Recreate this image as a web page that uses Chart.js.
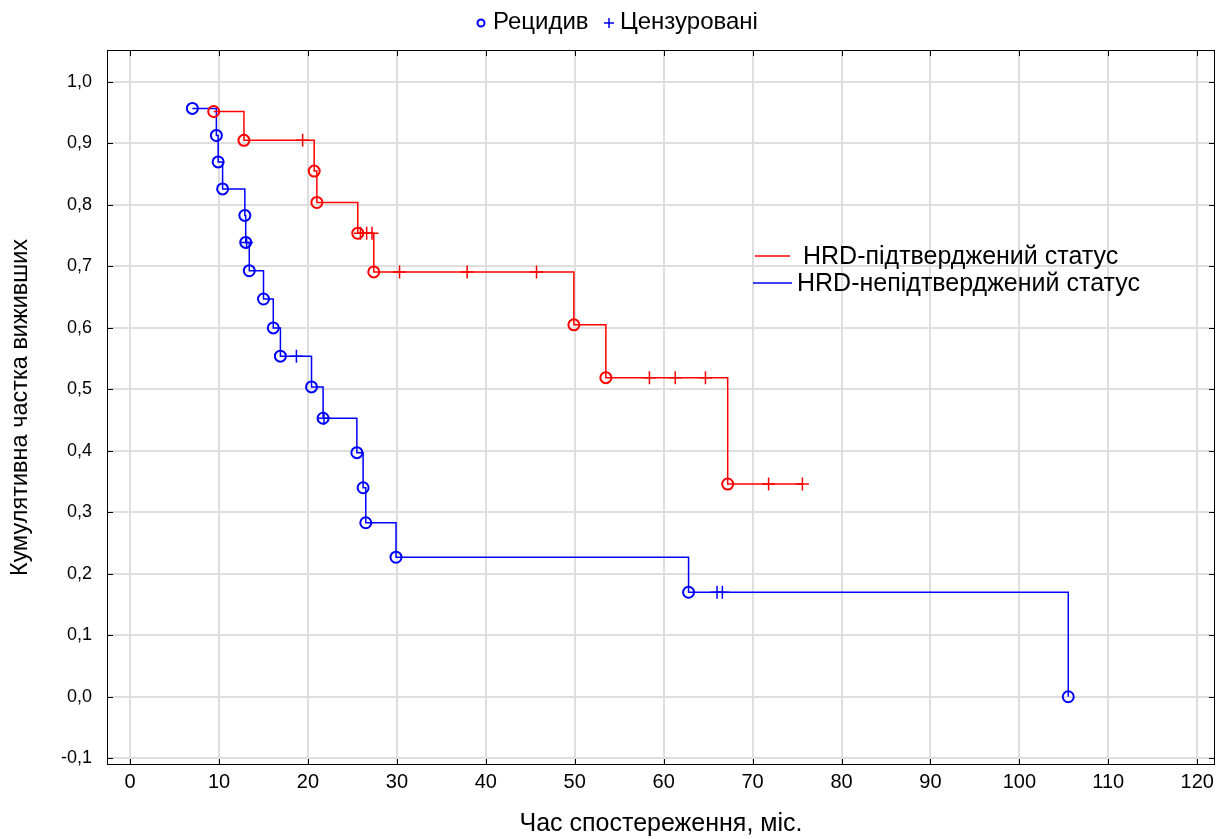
<!DOCTYPE html>
<html>
<head>
<meta charset="utf-8">
<script src="https://cdn.jsdelivr.net/npm/chart.js@4"></script>
<style>
  html, body { margin: 0; padding: 0; background: #fff; }
</style>
</head>
<body>
<canvas id="km" width="1231" height="839"></canvas>
<script>
// tick values
const xTicks = [0, 10, 20, 30, 40, 50, 60, 70, 80, 90, 100, 110, 120];
const yTicks = [-0.1, 0, 0.1, 0.2, 0.3, 0.4, 0.5, 0.6, 0.7, 0.8, 0.9, 1.0];

// HRD-підтверджений статус (red)
const posEventTime = [9.4, 12.8, 20.7, 21.0, 25.6, 27.4, 49.9, 53.5, 67.2];
const posEventSurv = [0.952, 0.905, 0.855, 0.804, 0.754, 0.691, 0.605, 0.519, 0.346];
const posCensTime = [19.4, 25.9, 26.6, 27.2, 30.3, 37.9, 45.7, 58.4, 61.3, 64.7, 71.8, 75.6];
const posCensSurv = [0.905, 0.754, 0.754, 0.754, 0.691, 0.691, 0.691, 0.519, 0.519, 0.519, 0.346, 0.346];

// HRD-непідтверджений статус (blue)
const negEventTime = [7.0, 9.7, 9.9, 10.4, 12.9, 13.0, 13.4, 15.0, 16.1, 16.9, 20.4, 21.7, 25.5, 26.2, 26.5, 29.9, 62.8, 105.5];
const negEventSurv = [0.957, 0.913, 0.870, 0.826, 0.783, 0.739, 0.693, 0.647, 0.600, 0.554, 0.504, 0.453, 0.397, 0.340, 0.283, 0.227, 0.170, 0.0];
const negCensTime = [13.1, 18.7, 21.8, 66.0, 66.6];
const negCensSurv = [0.739, 0.554, 0.453, 0.170, 0.170];

const RED = '#ff0000';
const BLUE = '#0000ff';
const SANS = "'Liberation Sans', Arial, sans-serif";

function toPoints(xs, ys) {
    return xs.map((x, i) => ({ x: x, y: ys[i] }));
}

// step curve goes through every event and censored point, in time order
function stepLine(evT, evS, cT, cS) {
    return toPoints(evT, evS).concat(toPoints(cT, cS)).sort((a, b) => a.x - b.x);
}

function lineSet(label, color, data) {
    return {
        type: 'line', label: label, data: data, stepped: 'before',
        borderColor: color, borderWidth: 1.5, pointRadius: 0, fill: false, order: 3
    };
}

function eventSet(color, data) {
    return {
        type: 'scatter', label: 'Рецидив', data: data, pointStyle: 'circle',
        pointRadius: 5.5, borderColor: color, borderWidth: 2,
        backgroundColor: 'rgba(0,0,0,0)', order: 2
    };
}

function censSet(color, data) {
    return {
        type: 'scatter', label: 'Цензуровані', data: data, pointStyle: 'cross',
        pointRadius: 6.5, borderColor: color, borderWidth: 1.5, order: 1
    };
}

const framePlugin = {
    id: 'frame',
    afterDraw(chart) {
        const ctx = chart.ctx;
        const a = chart.chartArea;
        const xs = chart.scales.x;
        const ys = chart.scales.y;
        ctx.save();
        ctx.strokeStyle = '#000';
        ctx.lineWidth = 1;
        ctx.strokeRect(a.left + 0.5, a.top + 0.5, a.right - a.left - 1, a.bottom - a.top - 1);
        // inward tick marks on every side
        ctx.beginPath();
        xTicks.forEach(v => {
            const px = Math.round(xs.getPixelForValue(v)) + 0.5;
            ctx.moveTo(px, a.top); ctx.lineTo(px, a.top + 6);
            ctx.moveTo(px, a.bottom); ctx.lineTo(px, a.bottom - 6);
        });
        yTicks.forEach(v => {
            const py = Math.round(ys.getPixelForValue(v)) + 0.5;
            ctx.moveTo(a.left, py); ctx.lineTo(a.left + 6, py);
            ctx.moveTo(a.right, py); ctx.lineTo(a.right - 6, py);
        });
        ctx.stroke();

        // top legend
        ctx.font = '24px ' + SANS;
        ctx.textBaseline = 'middle';
        ctx.fillStyle = '#000';
        const ly = 22;
        ctx.strokeStyle = BLUE;
        ctx.lineWidth = 2;
        ctx.beginPath();
        ctx.arc(481, ly + 1, 3.5, 0, Math.PI * 2);
        ctx.stroke();
        ctx.fillText('Рецидив', 493, ly);
        ctx.lineWidth = 1.5;
        ctx.beginPath();
        ctx.moveTo(604, ly + 1); ctx.lineTo(614, ly + 1);
        ctx.moveTo(609, ly - 4); ctx.lineTo(609, ly + 6);
        ctx.stroke();
        ctx.fillText('Цензуровані', 620, ly);

        // inner legend with group lines
        const groups = [
            { label: chart.data.datasets[0].label, color: chart.data.datasets[0].borderColor, y: 256, x0: 755, x1: 790, tx: 803 },
            { label: chart.data.datasets[1].label, color: chart.data.datasets[1].borderColor, y: 283, x0: 753, x1: 792, tx: 797 }
        ];
        ctx.font = '25px ' + SANS;
        groups.forEach(g => {
            ctx.strokeStyle = g.color;
            ctx.lineWidth = 1.5;
            ctx.beginPath();
            ctx.moveTo(g.x0, g.y); ctx.lineTo(g.x1, g.y);
            ctx.stroke();
            ctx.fillStyle = '#000';
            ctx.fillText(g.label, g.tx, g.y + 1);
        });
        ctx.restore();
    }
};

new Chart(document.getElementById('km'), {
    data: {
        datasets: [
            lineSet('HRD-підтверджений статус', RED, stepLine(posEventTime, posEventSurv, posCensTime, posCensSurv)),
            lineSet('HRD-непідтверджений статус', BLUE, stepLine(negEventTime, negEventSurv, negCensTime, negCensSurv)),
            eventSet(RED, toPoints(posEventTime, posEventSurv)),
            eventSet(BLUE, toPoints(negEventTime, negEventSurv)),
            censSet(RED, toPoints(posCensTime, posCensSurv)),
            censSet(BLUE, toPoints(negCensTime, negCensSurv))
        ]
    },
    options: {
        responsive: false,
        animation: false,
        events: [],
        layout: { padding: { top: 50, right: 16, left: 0, bottom: 0 } },
        plugins: { legend: { display: false }, tooltip: { enabled: false } },
        scales: {
            x: {
                type: 'linear', min: -2.6, max: 122,
                afterBuildTicks: s => { s.ticks = xTicks.map(v => ({ value: v })); },
                afterFit: s => { s.height = 74; },
                grid: { color: '#dedede', lineWidth: 2, drawTicks: false },
                border: { display: false },
                ticks: { color: '#000', padding: 5, font: { family: SANS, size: 20 } },
                title: {
                    display: true, text: 'Час спостереження, міс.', color: '#000',
                    font: { family: SANS, size: 25 }, padding: { top: 0, bottom: 0 }
                }
            },
            y: {
                type: 'linear', min: -0.111, max: 1.052,
                afterBuildTicks: s => { s.ticks = yTicks.map(v => ({ value: v })); },
                afterFit: s => { s.width = 107; },
                grid: { color: '#dedede', lineWidth: 2, drawTicks: false },
                border: { display: false },
                ticks: {
                    color: '#000', padding: 15, font: { family: SANS, size: 18 },
                    callback: v => v.toFixed(1).replace('.', ',')
                },
                title: {
                    display: true, text: 'Кумулятивна частка виживших', color: '#000',
                    font: { family: SANS, size: 23.5 }, padding: { top: 6, bottom: 0 }
                }
            }
        }
    },
    plugins: [framePlugin]
});
</script>
</body>
</html>
